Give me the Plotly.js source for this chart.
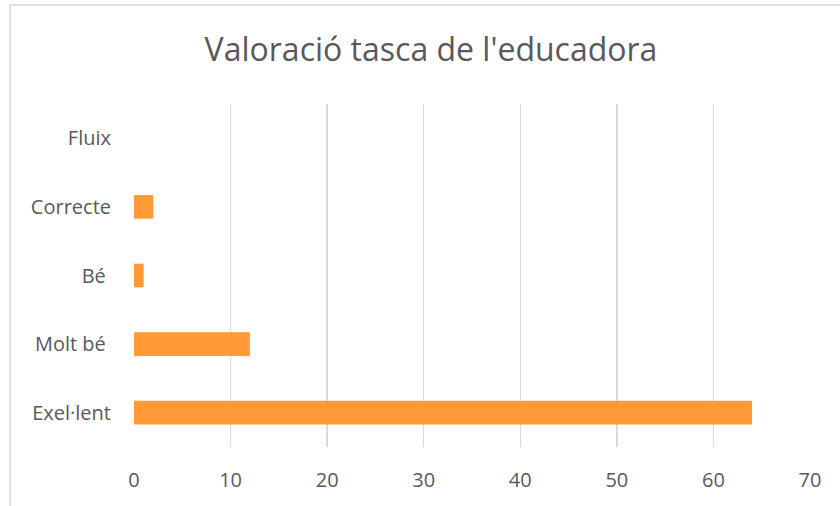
<!DOCTYPE html>
<html>
<head>
<meta charset="utf-8">
<script src="https://cdn.plot.ly/plotly-3.0.1.min.js"></script>
<style>html,body{margin:0;padding:0;background:#fff;}#chart{width:840px;height:506px;}</style>
</head>
<body>
<div id="chart"></div>
<script>
var categories = ["Exel·lent", "Molt bé\u00a0", "Bé\u00a0", "Correcte", "Fluix"];
var values = [64, 12, 1, 2, 0];
var xTicks = [0, 10, 20, 30, 40, 50, 60, 70];
var chartTitle = "Valoració tasca de l'educadora";

var L = 134, R = 30, T = 104, B = 59, W = 840, H = 506;
var pw = W - L - R, ph = H - T - B;
function px2x(p){ return (p - L) / pw; }
function py2y(p){ return (H - B - p) / ph; }

var trace = {
  type: 'bar',
  orientation: 'h',
  y: categories,
  x: values,
  marker: {color: '#FF9A36'},
  hoverinfo: 'x+y'
};

var layout = {
  width: W, height: H,
  margin: {l: L, r: R, t: T, b: B, pad: 0},
  paper_bgcolor: '#ffffff',
  plot_bgcolor: '#ffffff',
  bargap: 0.655,
  showlegend: false,
  font: {family: 'Open Sans, sans-serif', color: '#595959'},
  title: {
    text: chartTitle,
    font: {size: 32, color: '#595959', family: 'Open Sans, sans-serif'},
    x: 431 / W, xref: 'container', xanchor: 'center',
    y: 1 - 50 / H, yref: 'container', yanchor: 'middle'
  },
  xaxis: {
    range: [0, 70],
    tickvals: xTicks,
    ticktext: xTicks.map(String),
    showgrid: true,
    gridcolor: '#D9D9D9',
    gridwidth: 1.5,
    zeroline: false,
    showline: false,
    ticks: '',
    ticklabelstandoff: 19,
    tickfont: {size: 20, color: '#595959'},
    fixedrange: true
  },
  yaxis: {
    type: 'category',
    categoryorder: 'array',
    categoryarray: categories,
    showgrid: false,
    zeroline: false,
    showline: false,
    ticks: '',
    ticklabelstandoff: 22,
    tickfont: {size: 20, color: '#595959'},
    fixedrange: true
  },
  shapes: [{
    type: 'rect', xref: 'paper', yref: 'paper',
    x0: px2x(10), x1: px2x(900), y0: py2y(600), y1: py2y(5),
    line: {color: '#D9D9D9', width: 1.5},
    fillcolor: 'rgba(0,0,0,0)',
    layer: 'below'
  }]
};

Plotly.newPlot('chart', [trace], layout, {displayModeBar: false, staticPlot: true});
</script>
</body>
</html>
